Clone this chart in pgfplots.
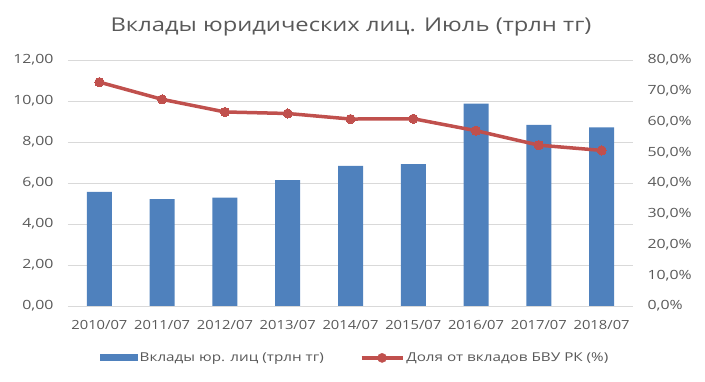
\documentclass[border=0pt]{standalone}
\usepackage{fontspec}
\setmainfont{Open Sans}[FakeStretch=1.25]
\newfontfamily\xfont{Open Sans}[FakeStretch=1.17]
\usepackage{pgfplots}
\pgfplotsset{compat=1.18}
\definecolor{barblue}{HTML}{4F81BD}
\definecolor{linered}{HTML}{C0504D}
\definecolor{txtgray}{HTML}{595959}
\definecolor{gridgray}{HTML}{D9D9D9}
\begin{document}
\begin{tikzpicture}
\useasboundingbox (0pt,0pt) rectangle (705pt,382pt);
\node[text=txtgray, font=\fontsize{19}{22}\selectfont, anchor=base] at (351pt,350.5pt) {Вклады юридических лиц. Июль (трлн тг)};
\begin{axis}[at={(68pt,76pt)}, anchor=south west, width=565pt, height=246pt, scale only axis,
  xmin=-0.5, xmax=8.5, ymin=0, ymax=12,
  ytick={0,2,...,12}, xtick={0,...,8},
  xticklabels={2010/07,2011/07,2012/07,2013/07,2014/07,2015/07,2016/07,2017/07,2018/07},
  axis line style={draw=none},
  ymajorgrids, grid style={gridgray, line width=0.9pt},
  major tick length=0pt,
  tick label style={text=txtgray},
  y tick label style={font=\fontsize{12.7}{15}\selectfont, /pgf/number format/.cd, fixed, fixed zerofill, precision=2, use comma, assume math mode=true, /tikz/.cd, xshift=-11pt},
  x tick label style={font=\xfont\fontsize{12.6}{15}\selectfont, anchor=base, yshift=-24pt},
  legend columns=2,
  legend style={draw=none, at={(0.508,-0.211)}, anchor=center, font=\fontsize{12.2}{15}\selectfont, text=txtgray, inner sep=0pt,
    /tikz/every odd column/.append style={column sep=0pt},
    /tikz/every even column/.append style={column sep=34pt},
    nodes={inner sep=2pt}},
]
\addplot[ybar, bar width=25pt, fill=barblue, draw=none,
  legend image code/.code={\fill[barblue] (0pt,-3.5pt) rectangle (38pt,3.5pt);}]
  coordinates {(0,5.57) (1,5.21) (2,5.29) (3,6.14) (4,6.84) (5,6.92) (6,9.87) (7,8.84) (8,8.71)};
\addlegendentry{Вклады юр. лиц (трлн тг)}
\addlegendimage{legend image code/.code={\draw[linered, line width=3.5pt] (0pt,0pt) -- (41pt,0pt); \fill[linered] (20.5pt,0pt) circle (4.6pt);}}
\addlegendentry{Доля от вкладов БВУ РК (\%)}
\end{axis}
\begin{axis}[at={(68pt,76pt)}, anchor=south west, width=565pt, height=246pt, scale only axis,
  xmin=-0.5, xmax=8.5, ymin=0, ymax=80,
  ytick={0,10,...,80}, xtick=\empty,
  axis y line*=right, axis x line=none,
  axis line style={draw=none},
  major tick length=0pt,
  tick label style={font=\fontsize{12.7}{15}\selectfont, text=txtgray},
  yticklabel={\pgfmathprintnumber[fixed, fixed zerofill, precision=1, use comma, assume math mode=true]{\tick}\%},
  y tick label style={xshift=11pt},
]
\addplot[linered, line width=3.5pt, mark=*, mark size=4.6pt, mark options={fill=linered, draw=linered, line width=0pt}]
  coordinates {(0,72.8) (1,67.2) (2,63.1) (3,62.6) (4,60.8) (5,60.9) (6,57.0) (7,52.3) (8,50.6)};
\end{axis}
\end{tikzpicture}
\end{document}
